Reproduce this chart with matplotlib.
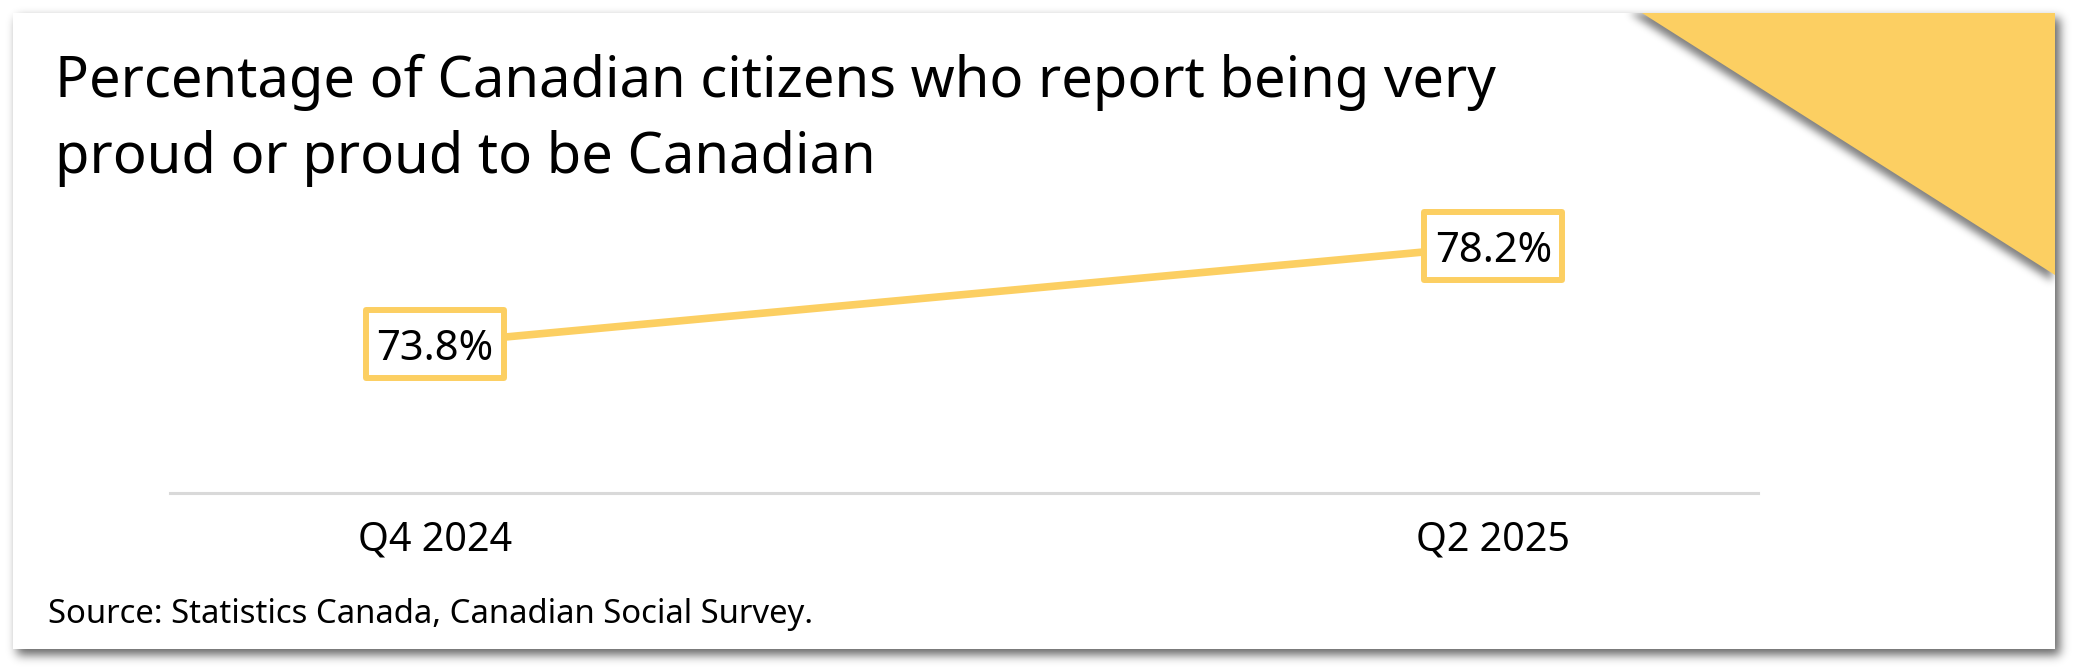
import numpy as np
import matplotlib
matplotlib.use('Agg')
import matplotlib.pyplot as plt
from matplotlib.patches import Rectangle, Polygon
from matplotlib.path import Path

plt.rcParams['font.family'] = ['Noto Sans', 'DejaVu Sans']

# dados
periodos = ['Q4 2024', 'Q2 2025']
valores = [73.8, 78.2]
rotulos = ['73.8%', '78.2%']

titulo1 = 'Percentage of Canadian citizens who report being very'
titulo2 = 'proud or proud to be Canadian'
fonte = 'Source: Statistics Canada, Canadian Social Survey.'

amarelo = '#fccf62'
W, H = 2080, 672


def desfocar(img, sigma):
    # blur gaussiano separavel
    r = int(3 * sigma)
    k = np.exp(-0.5 * (np.arange(-r, r + 1) / sigma) ** 2)
    k = k / k.sum()
    img = np.apply_along_axis(lambda v: np.convolve(v, k, mode='same'), 1, img)
    img = np.apply_along_axis(lambda v: np.convolve(v, k, mode='same'), 0, img)
    return img


fig = plt.figure(figsize=(W / 100, H / 100), dpi=100)
fig.patch.set_facecolor('white')

# fundo em pixels
bg = fig.add_axes([0, 0, 1, 1])
bg.set_xlim(0, W)
bg.set_ylim(H, 0)
bg.axis('off')

yy, xx = np.mgrid[0:H, 0:W] + 0.5

# sombra do cartao
cx0, cy0, cx1, cy1 = 13, 13, 2055, 649
m = ((xx > cx0 + 4) & (xx < cx1 + 5) & (yy > cy0 + 5) & (yy < cy1 + 6)).astype(float)
a = desfocar(m, 5.0) * 0.6
rgba = np.zeros((H, W, 4))
rgba[..., 3] = a
bg.imshow(rgba, extent=(0, W, H, 0), zorder=0, interpolation='bilinear')

cartao = Rectangle((cx0, cy0), cx1 - cx0, cy1 - cy0, facecolor='white',
                   edgecolor='none', zorder=1)
bg.add_patch(cartao)

# sombra do triangulo
tri = [(1642, cy0), (cx1, cy0), (cx1, 275)]
ty = yy - 6
tx = xx + 3
m2 = ((ty < 275) & (tx < cx1) & ((ty - cy0) * (cx1 - 1642) < (tx - 1642) * (275 - cy0))).astype(float)
m2 = m2 * (yy > cy0)
a2 = desfocar(m2, 4.0) * 0.5
rgba2 = np.zeros((H, W, 4))
rgba2[..., 3] = a2
im2 = bg.imshow(rgba2, extent=(0, W, H, 0), zorder=2, interpolation='bilinear')
im2.set_clip_path(cartao)

bg.add_patch(Polygon(tri, closed=True, facecolor=amarelo, edgecolor='none', zorder=3))

# titulo e fonte
bg.text(55, 97, titulo1, fontsize=40.4, color='black', va='baseline', ha='left', zorder=5)
bg.text(55, 173, titulo2, fontsize=40.4, color='black', va='baseline', ha='left', zorder=5)
bg.text(48, 623, fonte, fontsize=23.7, color='black', va='baseline', ha='left', zorder=5)

# grafico
ax = fig.add_axes([170 / W, (H - 493) / H, 1588 / W, 343 / H])
ax.patch.set_alpha(0)
x = np.arange(len(periodos))
ax.plot(x, valores, color=amarelo, lw=5.5, solid_capstyle='butt', zorder=2)

caixa = Path([(-0.5, -0.2428), (0.5, -0.2428), (0.5, 0.2428), (-0.5, 0.2428), (-0.5, -0.2428)],
             [Path.MOVETO, Path.LINETO, Path.LINETO, Path.LINETO, Path.CLOSEPOLY])
ax.plot(x, valores, ls='none', marker=caixa, markersize=99.4, markerfacecolor='white',
        markeredgecolor=amarelo, markeredgewidth=4.3, zorder=3)
for xi, v, r in zip(x, valores, rotulos):
    ax.annotate(r, (xi, v), xytext=(0, -12), textcoords='offset points',
                ha='center', va='baseline', fontsize=30, color='black', zorder=4)

ax.set_xlim(-0.25, 1.25)
ax.set_ylim(67.09, 82.49)
ax.set_xticks(x)
ax.set_xticklabels(periodos, fontsize=28.5, color='black')
ax.tick_params(axis='x', length=0, pad=20)
ax.set_yticks([])
for s in ['top', 'right', 'left']:
    ax.spines[s].set_visible(False)
ax.spines['bottom'].set_color('#d9d9d9')
ax.spines['bottom'].set_linewidth(2.2)

fig.savefig('out.png', dpi=100)
